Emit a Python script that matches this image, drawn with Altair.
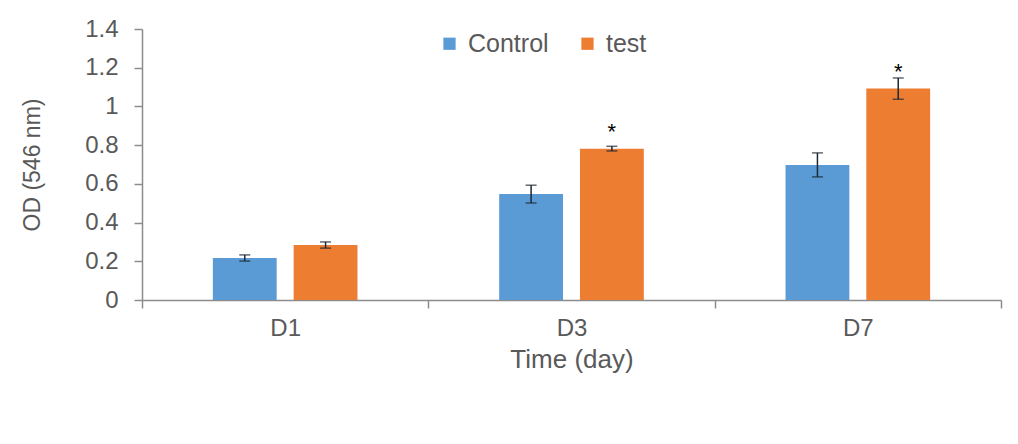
import altair as alt
import pandas as pd

days = ["D1", "D3", "D7"]
groups = ["Control", "test"]
control_mean = [0.217, 0.547, 0.698]
control_err = [0.016, 0.046, 0.062]
test_mean = [0.284, 0.782, 1.092]
test_err = [0.016, 0.012, 0.055]
test_sig = ["", "*", "*"]
colors = ["#5B9BD5", "#ED7D31"]
y_ticks = [0, 0.2, 0.4, 0.6, 0.8, 1.0, 1.2, 1.4]

rows = []
for i, d in enumerate(days):
    rows.append({"day": d, "group": "Control", "mean": control_mean[i],
                 "lo": control_mean[i] - control_err[i], "hi": control_mean[i] + control_err[i], "sig": ""})
    rows.append({"day": d, "group": "test", "mean": test_mean[i],
                 "lo": test_mean[i] - test_err[i], "hi": test_mean[i] + test_err[i], "sig": test_sig[i]})
df = pd.DataFrame(rows)

FONT = "Liberation Sans"
GRAY = "#595959"
AX = "#8c8c8c"

x_axis = alt.Axis(labelAngle=0, tickBand="extent", tickSize=8, labelPadding=8,
                  titlePadding=6, domainColor=AX, tickColor=AX, domainWidth=1.5,
                  tickWidth=1.5, labelFontSize=24, titleFontSize=26,
                  labelColor=GRAY, titleColor=GRAY, titleFontWeight="normal",
                  labelFont=FONT, titleFont=FONT)
y_axis = alt.Axis(values=y_ticks, format="~g", grid=False, tickSize=8,
                  labelOverlap=False, labelBound=False, labelFlush=False,
                  domainColor=AX, tickColor=AX, domainWidth=1.5, tickWidth=1.5,
                  labelFontSize=24, titleFontSize=23, labelColor=GRAY,
                  titleColor=GRAY, titleFontWeight="normal", labelPadding=16,
                  titlePadding=40, labelFont=FONT, titleFont=FONT)
x_scale = alt.Scale(paddingInner=0, paddingOuter=0)
y_scale = alt.Scale(domain=[0, 1.4], nice=False)


def X():
    return alt.X("day:N", sort=days, title="Time (day)", scale=x_scale, axis=x_axis)


def Y(field):
    return alt.Y(field, scale=y_scale, title="OD (546 nm)", axis=y_axis)


xo_enc = alt.XOffset("group:N", sort=groups,
                     scale=alt.Scale(paddingInner=0.21, paddingOuter=0.877))

base = alt.Chart(df)

bars = base.mark_bar().encode(
    x=X(), xOffset=xo_enc, y=Y("mean:Q"),
    color=alt.Color("group:N", sort=groups, scale=alt.Scale(domain=groups, range=colors),
                    legend=alt.Legend(title=None, orient="none", direction="horizontal",
                                      legendX=295, legendY=2, symbolType="square",
                                      symbolSize=150, symbolStrokeWidth=0,
                                      labelFontSize=25, labelColor=GRAY, labelFont=FONT,
                                      columnPadding=26, labelOffset=6)),
)

err = base.mark_rule(color="#1c2833", strokeWidth=1.5).encode(
    x=X(), xOffset=xo_enc, y=Y("lo:Q"), y2="hi:Q",
)
cap_lo = base.mark_tick(color="#1c2833", thickness=1.5, size=11).encode(
    x=X(), xOffset=xo_enc, y=Y("lo:Q"))
cap_hi = base.mark_tick(color="#1c2833", thickness=1.5, size=11).encode(
    x=X(), xOffset=xo_enc, y=Y("hi:Q"))

stars = base.mark_text(color="black", fontSize=22, dy=-17, baseline="middle", font=FONT).encode(
    x=X(), xOffset=xo_enc, y=Y("mean:Q"), text="sig:N",
)

chart = alt.layer(bars, err, cap_lo, cap_hi, stars).properties(
    width=859, height=271,
    background="white",
    autosize=alt.AutoSizeParams(type="none"),
    padding={"left": 134, "top": 21, "right": 9, "bottom": 120},
).configure_view(stroke=None)

chart.save("out.html", embed_options={"renderer": "svg", "actions": False})
